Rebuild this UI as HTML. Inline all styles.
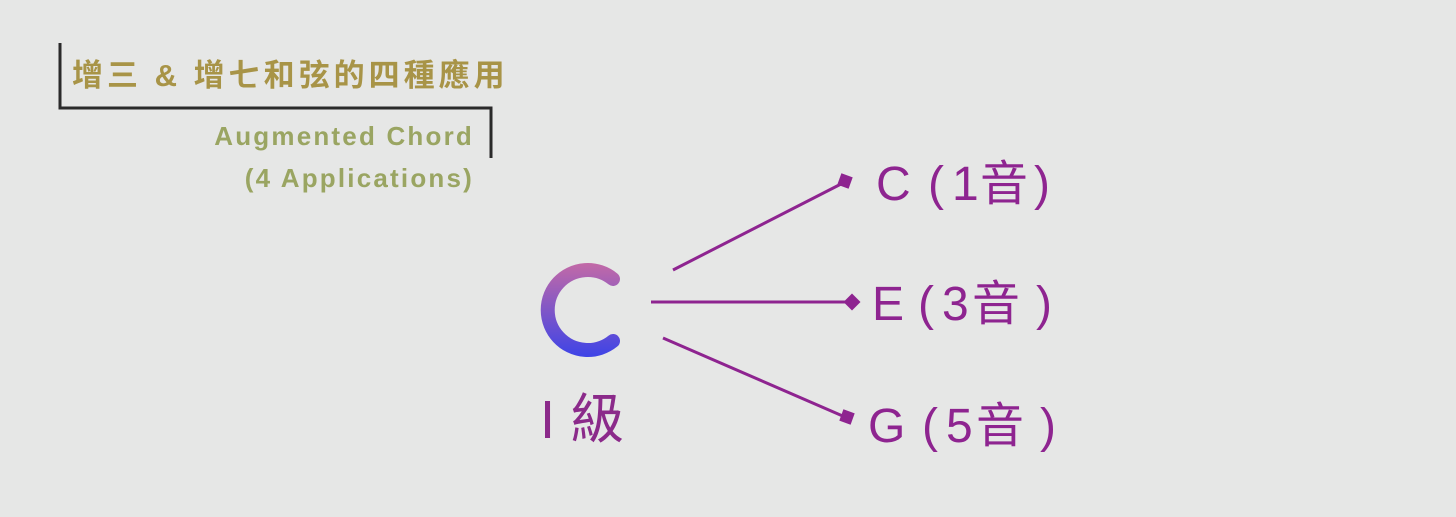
<!DOCTYPE html>
<html><head><meta charset="utf-8"><style>
html,body{margin:0;padding:0;background:#e6e7e6;}
svg{display:block}
text{font-family:"Liberation Sans","Noto Sans CJK TC",sans-serif;}
</style></head><body>
<svg width="1456" height="517" viewBox="0 0 1456 517" xmlns="http://www.w3.org/2000/svg">
<defs>
<linearGradient id="g" gradientUnits="userSpaceOnUse" x1="0" y1="262" x2="0" y2="356">
<stop offset="0" stop-color="#c46aa6"/>
<stop offset="1" stop-color="#3f44e6"/>
</linearGradient>
</defs>
<rect width="1456" height="517" fill="#e6e7e6"/>
<polyline points="60,43 60,108 491,108 491,158" fill="none" stroke="#2a2a2a" stroke-width="3"/>
<text x="72" y="86" font-size="31" font-weight="bold" fill="#a89447" letter-spacing="4">增三 &amp; 增七和弦的四種應用</text>
<text x="474" y="145" font-size="26" font-weight="bold" fill="#9aa562" text-anchor="end" letter-spacing="2.2">Augmented Chord</text>
<text x="474" y="187" font-size="26" font-weight="bold" fill="#9aa562" text-anchor="end" letter-spacing="2.2">(4 Applications)</text>
<path d="M613,279 A40,40 0 1 0 613,341" fill="none" stroke="url(#g)" stroke-width="14" stroke-linecap="round"/>
<text y="438" font-size="54" fill="#8b2a8a"><tspan x="540">I</tspan><tspan x="570">級</tspan></text>
<g stroke="#8e2490" stroke-width="3" fill="none">
<line x1="673" y1="270" x2="843" y2="183"/>
<line x1="651" y1="302" x2="850" y2="302"/>
<line x1="663" y1="338" x2="845" y2="417"/>
</g>
<g fill="#8e2490">
<rect x="839" y="175" width="12" height="12" transform="rotate(20 845 181)"/>
<rect x="846" y="296" width="12" height="12" transform="rotate(45 852 302)"/>
<rect x="841" y="411" width="12" height="12" transform="rotate(20 847 417)"/>
</g>
<g fill="#8e2490" font-size="48">
<text y="200"><tspan x="876">C</tspan><tspan x="928">(</tspan><tspan x="952">1</tspan><tspan x="980">音</tspan><tspan x="1034">)</tspan></text>
<text y="320"><tspan x="872">E</tspan><tspan x="918">(</tspan><tspan x="942">3</tspan><tspan x="972">音</tspan><tspan x="1036">)</tspan></text>
<text y="442"><tspan x="868">G</tspan><tspan x="922">(</tspan><tspan x="946">5</tspan><tspan x="976">音</tspan><tspan x="1040">)</tspan></text>
</g>
</svg>
</body></html>
